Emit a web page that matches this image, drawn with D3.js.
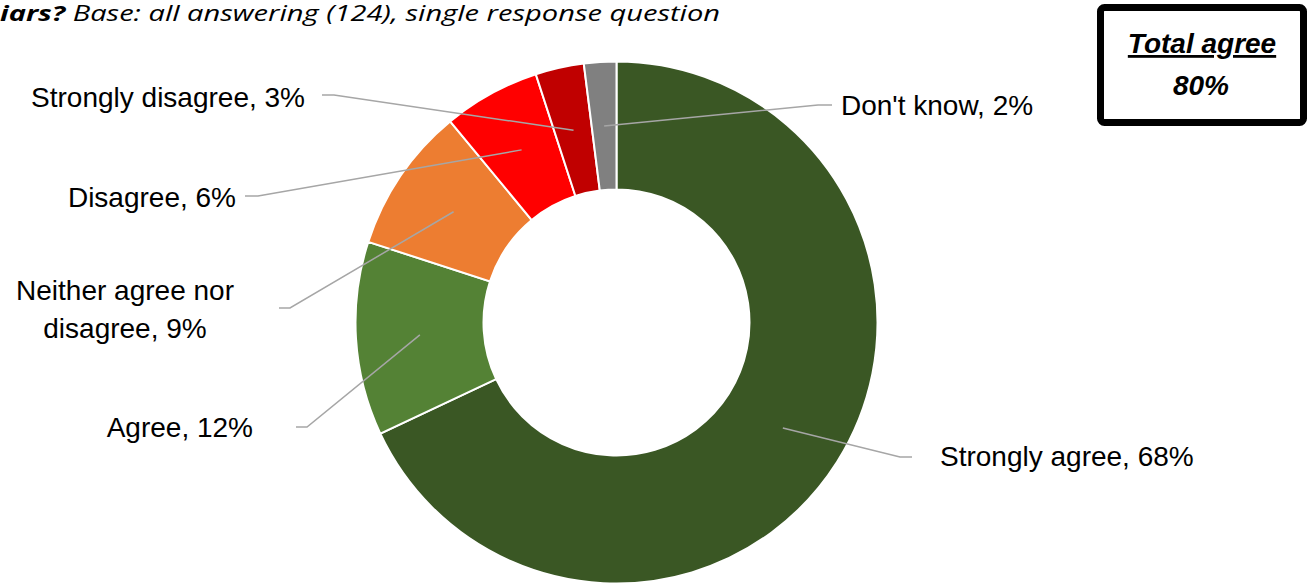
<!DOCTYPE html>
<html>
<head>
<meta charset="utf-8">
<script src="https://cdn.jsdelivr.net/npm/d3@7"></script>
<style>
  html, body { margin: 0; padding: 0; background: #fff; overflow: hidden; }
  svg { display: block; font-family: "Liberation Sans", Arial, sans-serif; }
</style>
</head>
<body>
<svg id="chart" width="1313" height="585"></svg>
<script>
// ---- data ----
const categories = ["Strongly agree", "Agree", "Neither agree nor disagree", "Disagree", "Strongly disagree", "Don't know"];
const values = [68, 12, 9, 6, 3, 2];
const colors = ["#3A5724", "#548235", "#ED7D31", "#FF0000", "#C00000", "#808080"];
const agreeCategories = ["Strongly agree", "Agree"];
const titleBold = "iars?";
const titleRest = " Base: all answering (124), single response question";

// ---- label layout (text lines, anchor, positions, leader elbows) ----
const labelLayout = [
  { lines: ["Strongly agree, 68%"], anchor: "start", x: 940, y: 466, elbow: [900, 457], end: [912, 457] },
  { lines: ["Agree, 12%"], anchor: "end", x: 253, y: 437, elbow: [307, 427], end: [296, 427] },
  { lines: ["Neither agree nor", "disagree, 9%"], anchor: "middle", x: 125, y: 300, elbow: [290, 308], end: [279, 308] },
  { lines: ["Disagree, 6%"], anchor: "end", x: 236, y: 207, elbow: [258, 196], end: [245, 196] },
  { lines: ["Strongly disagree, 3%"], anchor: "end", x: 305, y: 107, elbow: [334, 95], end: [322, 95] },
  { lines: ["Don't know, 2%"], anchor: "start", x: 841, y: 115, elbow: [818, 105], end: [832, 105] }
];

const svg = d3.select("#chart");
const cx = 616.5, cy = 322.5, rOuter = 261, rInner = 133;

const data = categories.map((c, i) => ({ category: c, value: values[i], color: colors[i] }));
const pie = d3.pie().sort(null).value(d => d.value).startAngle(0).endAngle(2 * Math.PI);
const arc = d3.arc().innerRadius(rInner).outerRadius(rOuter);
const arcs = pie(data);

const g = svg.append("g").attr("transform", `translate(${cx},${cy})`);
g.selectAll("path.slice").data(arcs).join("path")
  .attr("class", "slice")
  .attr("d", arc)
  .attr("fill", d => d.data.color)
  .attr("stroke", "#fff")
  .attr("stroke-width", 2);

// leader lines
const leaders = svg.append("g");
arcs.forEach((a, i) => {
  const L = labelLayout[i];
  const c = arc.centroid(a);
  const pts = [[cx + c[0], cy + c[1]], L.elbow, L.end];
  leaders.append("path")
    .attr("d", d3.line()(pts))
    .attr("fill", "none")
    .attr("stroke", "#A6A6A6")
    .attr("stroke-width", 1.5);
});

// labels
const labels = svg.append("g").attr("font-size", 28).attr("fill", "#000");
labelLayout.forEach(L => {
  const t = labels.append("text").attr("text-anchor", L.anchor).attr("x", L.x).attr("y", L.y);
  L.lines.forEach((ln, j) => {
    t.append("tspan").attr("x", L.x).attr("dy", j === 0 ? 0 : 38).text(ln);
  });
});

// title (cut off at left edge)
const title = svg.append("text")
  .attr("x", 0).attr("y", 21)
  .attr("font-family", "'Open Sans', sans-serif")
  .attr("font-size", 22)
  .attr("font-style", "italic")
  .attr("textLength", 720)
  .attr("lengthAdjust", "spacingAndGlyphs");
title.append("tspan").attr("font-weight", "bold").text(titleBold);
title.append("tspan").text(titleRest);

// Total agree box
const totalAgree = d3.sum(data.filter(d => agreeCategories.includes(d.category)), d => d.value);
svg.append("rect")
  .attr("x", 1100.5).attr("y", 7.5)
  .attr("width", 203).attr("height", 115)
  .attr("rx", 4)
  .attr("fill", "#fff")
  .attr("stroke", "#000")
  .attr("stroke-width", 7);
svg.append("text")
  .attr("x", 1202).attr("y", 53)
  .attr("text-anchor", "middle")
  .attr("font-size", 28).attr("font-weight", "bold").attr("font-style", "italic")
  .attr("text-decoration", "underline")
  .text("Total agree");
svg.append("text")
  .attr("x", 1201).attr("y", 95)
  .attr("text-anchor", "middle")
  .attr("font-size", 28).attr("font-weight", "bold").attr("font-style", "italic")
  .text(totalAgree + "%");
</script>
</body>
</html>
